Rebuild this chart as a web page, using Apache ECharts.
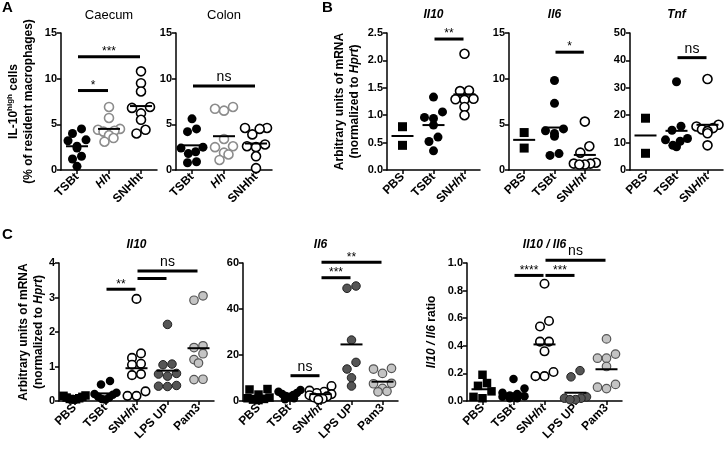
<!DOCTYPE html>
<html><head><meta charset="utf-8">
<script src="https://cdn.jsdelivr.net/npm/echarts@6/dist/echarts.min.js"></script>
<style>html,body{margin:0;padding:0;background:#fff}#c{width:726px;height:450px}</style>
</head><body><div id="c"></div>
<script>
// ---------------- DATA ----------------
const catsA = ['TSBt', 'Hh', 'SNHht'];
const catsB = ['PBS', 'TSBt', 'SNHht'];
const catsC = ['PBS', 'TSBt', 'SNHht', 'LPS UP', 'Pam3'];

// Panel A – Caecum (% IL-10 high)
const caecumTSBt  = [4.5, 4.0, 3.3, 3.2, 2.6, 2.4, 1.5, 1.2, 0.4];
const caecumHh    = [6.9, 5.7, 4.5, 4.4, 4.3, 4.2, 3.8, 3.5, 3.1];
const caecumSNHht = [10.8, 9.5, 8.6, 6.9, 6.8, 6.2, 5.5, 4.4, 4.0];
const caecumLines = [2.6, 4.5, 7.0];
const caecumSig   = [[0, 2, 12.4, '***'], [0, 1, 8.7, '*']];

// Panel A – Colon
const colonTSBt  = [5.6, 4.5, 4.2, 2.5, 2.4, 2.0, 1.8, 0.9, 0.8];
const colonHh    = [6.9, 6.7, 6.5, 3.4, 2.6, 2.5, 1.9, 1.7, 1.1];
const colonSNHht = [4.6, 4.6, 4.5, 3.9, 2.8, 2.6, 2.5, 1.5, 0.2];
const colonLines = [2.7, 3.7, 2.9];
const colonSig   = [[0, 2, 9.2, 'ns']];

// Panel B – Il10
const bIl10PBS   = [0.79, 0.45];
const bIl10TSBt  = [1.33, 1.06, 0.96, 0.94, 0.82, 0.6, 0.52, 0.35];
const bIl10SNHht = [2.12, 1.45, 1.44, 1.3, 1.29, 1.28, 1.15, 1.0];
const bIl10Lines = [0.62, 0.82, 1.38];
const bIl10Sig   = [[1, 2, 2.39, '**']];

// Panel B – Il6
const bIl6PBS   = [4.1, 2.4];
const bIl6TSBt  = [9.8, 7.3, 4.5, 4.3, 4.0, 3.7, 1.8, 1.6];
const bIl6SNHht = [5.3, 2.6, 1.9, 0.8, 0.7, 0.7, 0.6, 0.6];
const bIl6Lines = [3.3, 4.65, 1.65];
const bIl6Sig   = [[1, 2, 12.9, '*']];

// Panel B – Tnf
const bTnfPBS   = [18.9, 6.1];
const bTnfTSBt  = [32.2, 16.0, 14.5, 11.5, 11.0, 10.5, 9.0, 8.5];
const bTnfSNHht = [33.2, 16.5, 15.9, 15.3, 14.8, 14.2, 13.4, 9.0];
const bTnfLines = [12.6, 14.3, 16.5];
const bTnfSig   = [[1, 2, 41, 'ns']];

// Panel C – Il10
const cIl10PBS   = [0.16, 0.15, 0.12, 0.1, 0.08, 0.06, 0.05, 0.04];
const cIl10TSBt  = [0.58, 0.48, 0.24, 0.2, 0.18, 0.12, 0.1, 0.06, 0.04];
const cIl10SNHht = [2.96, 1.38, 1.25, 1.08, 1.05, 0.78, 0.75, 0.28, 0.15, 0.15];
const cIl10LPS   = [2.22, 1.07, 1.05, 0.8, 0.78, 0.72, 0.45, 0.43, 0.42];
const cIl10Pam3  = [3.05, 2.92, 1.6, 1.55, 1.37, 1.2, 1.1, 0.63, 0.62];
const cIl10Lines = [0.09, 0.22, 0.95, 0.88, 1.53];
const cIl10Sig   = [[1, 2, 3.24, '**'], [2, 3, 3.55, ''], [2, 4, 3.77, 'ns']];

// Panel C – Il6
const cIl6PBS   = [5.2, 5.0, 2.8, 1.5, 1.2, 0.9, 0.6, 0.4];
const cIl6TSBt  = [4.8, 4.0, 3.5, 3.0, 2.6, 2.2, 1.8, 1.2, 0.8];
const cIl6SNHht = [6.5, 4.5, 4.0, 3.5, 3.0, 2.5, 2.0, 1.5, 1.0, 0.6];
const cIl6LPS   = [50.0, 49.0, 26.5, 16.8, 13.9, 10.1, 6.5];
const cIl6Pam3  = [14.2, 13.9, 12.0, 7.7, 7.5, 5.5, 4.2, 4.0];
const cIl6Lines = [2.3, 3.0, 3.0, 24.6, 8.4];
const cIl6Sig   = [[1, 2, 11, 'ns'], [2, 3, 53.6, '***'], [2, 4, 60.3, '**']];

// Panel C – Il10 / Il6 ratio
const cRatioPBS   = [0.19, 0.13, 0.11, 0.07, 0.03, 0.02];
const cRatioTSBt  = [0.16, 0.09, 0.06, 0.05, 0.04, 0.035, 0.03, 0.02, 0.02];
const cRatioSNHht = [0.85, 0.58, 0.54, 0.43, 0.43, 0.36, 0.21, 0.18, 0.18];
const cRatioLPS   = [0.22, 0.175, 0.03, 0.02, 0.02, 0.01, 0.01];
const cRatioPam3  = [0.45, 0.34, 0.31, 0.31, 0.25, 0.12, 0.1, 0.09];
const cRatioLines = [0.085, 0.055, 0.41, 0.06, 0.23];
const cRatioSig   = [[1, 2, 0.91, '****'], [2, 3, 0.91, '***'], [2, 4, 1.02, 'ns']];

// ---------------- STYLE / LAYOUT ----------------
const FONT = 'Arial, "Liberation Sans", sans-serif';
const styles = {
  blackDot:  {symbol: 'circle', color: '#000', border: '#000', bw: 0},
  openBlack: {symbol: 'circle', color: '#fff', border: '#000', bw: 1.6},
  openGray:  {symbol: 'circle', color: '#fff', border: '#8c8c8c', bw: 1.6},
  blackSq:   {symbol: 'rect',   color: '#000', border: '#000', bw: 0},
  darkDot:   {symbol: 'circle', color: '#555', border: '#222', bw: 1},
  lightDot:  {symbol: 'circle', color: '#c4c4c4', border: '#555', bw: 1.2}
};
const layout = [
  {l: 61,  t: 33,  w: 96,  h: 137, s: 9},
  {l: 176, t: 33,  w: 96,  h: 137, s: 9},
  {l: 387, t: 33,  w: 93,  h: 137, s: 9},
  {l: 509, t: 33,  w: 91,  h: 137, s: 9},
  {l: 630, t: 33,  w: 93,  h: 137, s: 9},
  {l: 59,  t: 263, w: 155, h: 138, s: 8.5},
  {l: 243, t: 263, w: 155, h: 138, s: 8.5},
  {l: 467, t: 263, w: 155, h: 138, s: 8.5}
];
const nameRich = {
  b:  {fontSize: 12, fontWeight: 'bold', fontFamily: FONT, color: '#000', lineHeight: 15},
  bi: {fontSize: 12, fontWeight: 'bold', fontStyle: 'italic', fontFamily: FONT, color: '#000', lineHeight: 15},
  s:  {fontSize: 8, fontWeight: 'bold', fontFamily: FONT, color: '#000', lineHeight: 8, verticalAlign: 'top'}
};
const mrnaName = '{b|Arbitrary units of mRNA}\n{b|(normalized to }{bi|Hprt}{b|)}';

const panels = [
  {title: 'Caecum', tStyle: 'normal', cats: catsA, max: 15, interval: 5, dec: 0, hht: false,
   groups: [[caecumTSBt, 'blackDot'], [caecumHh, 'openGray'], [caecumSNHht, 'openBlack']],
   lines: caecumLines, sig: caecumSig,
   yName: '{b|IL-10}{s|high}{b| cells}\n{b|(% of resident macrophages)}', nameGap: 25},
  {title: 'Colon', tStyle: 'normal', cats: catsA, max: 15, interval: 5, dec: 0, hht: false,
   groups: [[colonTSBt, 'blackDot'], [colonHh, 'openGray'], [colonSNHht, 'openBlack']],
   lines: colonLines, sig: colonSig},
  {title: 'Il10', tStyle: 'italic', cats: catsB, max: 2.5, interval: 0.5, dec: 1, hht: true,
   groups: [[bIl10PBS, 'blackSq'], [bIl10TSBt, 'blackDot'], [bIl10SNHht, 'openBlack']],
   lines: bIl10Lines, sig: bIl10Sig, yName: mrnaName, nameGap: 25},
  {title: 'Il6', tStyle: 'italic', cats: catsB, max: 15, interval: 5, dec: 0, hht: true,
   groups: [[bIl6PBS, 'blackSq'], [bIl6TSBt, 'blackDot'], [bIl6SNHht, 'openBlack']],
   lines: bIl6Lines, sig: bIl6Sig},
  {title: 'Tnf', tStyle: 'italic', cats: catsB, max: 50, interval: 10, dec: 0, hht: true,
   groups: [[bTnfPBS, 'blackSq'], [bTnfTSBt, 'blackDot'], [bTnfSNHht, 'openBlack']],
   lines: bTnfLines, sig: bTnfSig},
  {title: 'Il10', tStyle: 'italic', cats: catsC, max: 4, interval: 1, dec: 0, hht: true,
   groups: [[cIl10PBS, 'blackSq'], [cIl10TSBt, 'blackDot'], [cIl10SNHht, 'openBlack'], [cIl10LPS, 'darkDot'], [cIl10Pam3, 'lightDot']],
   lines: cIl10Lines, sig: cIl10Sig, yName: mrnaName, nameGap: 13},
  {title: 'Il6', tStyle: 'italic', cats: catsC, max: 60, interval: 20, dec: 0, hht: true,
   groups: [[cIl6PBS, 'blackSq'], [cIl6TSBt, 'blackDot'], [cIl6SNHht, 'openBlack'], [cIl6LPS, 'darkDot'], [cIl6Pam3, 'lightDot']],
   lines: cIl6Lines, sig: cIl6Sig},
  {title: 'Il10 / Il6', tStyle: 'italic', cats: catsC, max: 1.0, interval: 0.2, dec: 1, hht: true,
   groups: [[cRatioPBS, 'blackSq'], [cRatioTSBt, 'blackDot'], [cRatioSNHht, 'openBlack'], [cRatioLPS, 'darkDot'], [cRatioPam3, 'lightDot']],
   lines: cRatioLines, sig: cRatioSig, yName: '{bi|Il10 / Il6}{b| ratio}', nameGap: 28}
];

function catFmt(hht) {
  return v => v === 'Hh' ? '{i|Hh}' : (v === 'SNHht' && hht ? 'SN{i|Hht}' : v);
}

const grid = [], xAxis = [], yAxis = [], series = [], graphic = [];
panels.forEach((p, k) => {
  const L = layout[k];
  grid.push({left: L.l, top: L.t, width: L.w, height: L.h, containLabel: false, outerBoundsMode: 'none'});
  xAxis.push({
    type: 'category', gridIndex: k, data: p.cats, boundaryGap: true,
    axisLine: {onZero: false, lineStyle: {color: '#000', width: 1.5}},
    axisTick: {show: true, alignWithLabel: true, length: 4, lineStyle: {color: '#000', width: 1.5}},
    axisLabel: {interval: 0, rotate: 45, margin: 5, color: '#000', fontSize: 12, fontWeight: 'bold', fontFamily: FONT,
      formatter: catFmt(p.hht),
      rich: {i: {fontStyle: 'italic', fontWeight: 'bold', fontSize: 12, fontFamily: FONT, color: '#000'}}},
    splitLine: {show: false}
  });
  yAxis.push({
    type: 'value', gridIndex: k, min: 0, max: p.max, interval: p.interval,
    axisLine: {show: true, lineStyle: {color: '#000', width: 1.5}},
    axisTick: {show: true, length: 4, lineStyle: {color: '#000', width: 1.5}},
    axisLabel: {margin: 4, color: '#000', fontSize: 11, fontWeight: 'bold', fontFamily: FONT,
      formatter: v => v.toFixed(p.dec)},
    splitLine: {show: false},
    name: p.yName || '', nameLocation: 'middle', nameRotate: 90, nameGap: p.nameGap || 20,
    nameTextStyle: {rich: nameRich}
  });
  p.groups.forEach((g, ci) => {
    const S = styles[g[1]];
    series.push({
      type: 'scatter', xAxisIndex: k, yAxisIndex: k, symbol: S.symbol, symbolSize: L.s, silent: true, z: 3,
      itemStyle: {color: S.color, borderColor: S.border, borderWidth: S.bw, opacity: 1},
      data: g[0].map(v => [ci, v])
    });
  });
  series.push({
    type: 'custom', xAxisIndex: k, yAxisIndex: k, z: 4, silent: true,
    data: p.lines.map((v, i) => [i, v]),
    renderItem: (params, api) => {
      const c = api.coord([api.value(0), api.value(1)]);
      return {type: 'line', shape: {x1: c[0] - 11, y1: c[1], x2: c[0] + 11, y2: c[1]},
        style: {stroke: '#000', lineWidth: 2}};
    }
  });
  const sig = p.sig;
  series.push({
    type: 'custom', xAxisIndex: k, yAxisIndex: k, z: 5, silent: true, clip: false,
    data: sig.map(s => [s[0], s[2]]),
    renderItem: (params, api) => {
      const s = sig[params.dataIndex];
      const a = api.coord([s[0], s[2]]);
      const b = api.coord([s[1], s[2]]);
      const x1 = a[0] + 1, x2 = b[0] - 1;
      const star = s[3].indexOf('*') === 0;
      return {type: 'group', children: [
        {type: 'line', shape: {x1: x1, y1: a[1], x2: x2, y2: a[1]}, style: {stroke: '#000', lineWidth: 3}},
        {type: 'text', style: {text: s[3], x: (x1 + x2) / 2, y: a[1] - (star ? -1 : 2),
          align: 'center', verticalAlign: 'bottom', textAlign: 'center', textVerticalAlign: 'bottom',
          font: (star ? '12px ' : '14px ') + FONT, fill: '#000'}}
      ]};
    }
  });
  graphic.push({type: 'text', x: L.l + L.w / 2, y: L.t - 18,
    style: {text: p.title, align: 'center', verticalAlign: 'middle', textAlign: 'center', textVerticalAlign: 'middle',
      font: (p.tStyle === 'italic' ? 'italic bold 12px ' : '13px ') + FONT, fill: '#000'}});
});
[['A', 2, 8], ['B', 322, 8], ['C', 2, 235]].forEach(t => {
  graphic.push({type: 'text', x: t[1], y: t[2],
    style: {text: t[0], align: 'left', verticalAlign: 'middle', textAlign: 'left', textVerticalAlign: 'middle',
      font: 'bold 15px ' + FONT, fill: '#000'}});
});

// GraphPad-like scatter spreading: points close in value share a row and are
// spread side by side around the category centre (overlap allowed when crowded);
// the lowest point of a row sits in the middle, higher ones fan outwards.
function spread(ys, D, maxSpan) {
  const order = ys.map((y, i) => i).sort((a, b) => ys[a] - ys[b]);
  const rows = [];
  let cur = null;
  order.forEach(i => {
    if (!cur || ys[i] - cur.y0 > D * 0.8) { cur = {y0: ys[i], items: []}; rows.push(cur); }
    cur.items.push(i);
  });
  const off = new Array(ys.length).fill(0);
  rows.forEach(r => {
    const n = r.items.length;
    const s = n > 1 ? Math.min(D, maxSpan / (n - 1)) : 0;
    const slots = [];
    for (let j = 0; j < n; j++) slots.push((j - (n - 1) / 2) * s);
    slots.sort((a, b) => Math.abs(a) - Math.abs(b) || a - b);
    const items = r.items.slice().sort((a, b) => ys[b] - ys[a]);
    items.forEach((i, j) => { off[i] = slots[j]; });
  });
  return off;
}

const option = {animation: false, backgroundColor: '#fff', grid, xAxis, yAxis, series, graphic};
const chart = echarts.init(document.getElementById('c'), null, {renderer: 'canvas'});
chart.setOption(option);
option.series.forEach((s, si) => {
  if (s.type !== 'scatter') return;
  const ys = s.data.map(d => chart.convertToPixel({seriesIndex: si}, d)[1]);
  const offs = spread(ys, 9, 22);
  s.data = s.data.map((d, i) => ({value: d, symbolOffset: [offs[i], 0]}));
});
chart.setOption(option, true);
</script></body></html>
